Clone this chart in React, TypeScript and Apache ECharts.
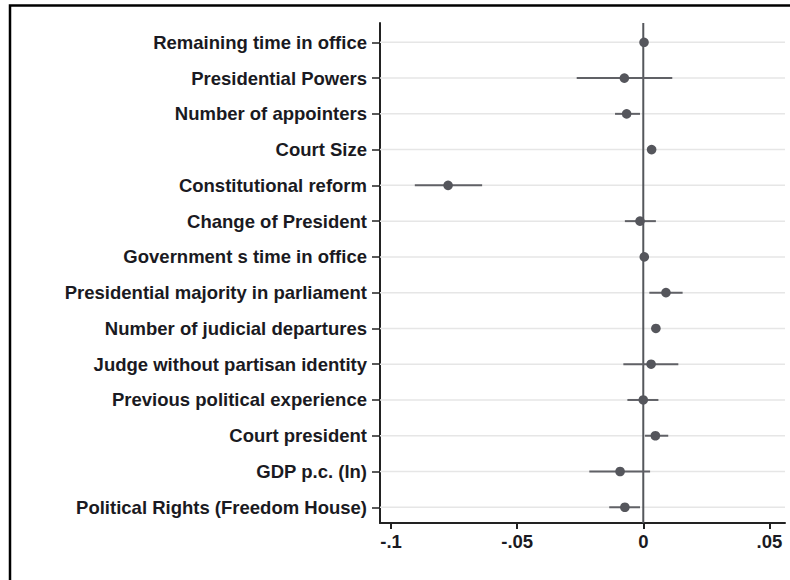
import React, { useEffect, useRef } from "react";
import * as echarts from "echarts";

const categories = [
  "Remaining time in office",
  "Presidential Powers",
  "Number of appointers",
  "Court Size",
  "Constitutional reform",
  "Change of President",
  "Government s time in office",
  "Presidential majority in parliament",
  "Number of judicial departures",
  "Judge without partisan identity",
  "Previous political experience",
  "Court president",
  "GDP p.c. (ln)",
  "Political Rights (Freedom House)",
];

const estimates = [0.0003, -0.0075, -0.0066, 0.0033, -0.0774, -0.0013, 0.0004, 0.009, 0.005, 0.0031, 0.0, 0.0048, -0.0092, -0.0073];
const ciLow = [-0.0006, -0.0264, -0.0112, 0.0022, -0.0906, -0.0073, -0.0005, 0.0024, 0.004, -0.0079, -0.0063, 0.0007, -0.0214, -0.0135];
const ciHigh = [0.0012, 0.0115, -0.0013, 0.0044, -0.0639, 0.005, 0.0013, 0.0156, 0.006, 0.0139, 0.006, 0.0099, 0.0027, -0.0013];

const xTickValues = [-0.1, -0.05, 0, 0.05];
const xTickLabels = ["-.1", "-.05", "0", ".05"];

export default function App() {
  const ref = useRef<HTMLDivElement>(null);
  useEffect(() => {
    if (!ref.current) return;
    const chart = echarts.init(ref.current, null, { renderer: "svg" });
    const rows = categories.map((_, i) => [estimates[i], i + 1, ciLow[i], ciHigh[i]]);
    const yTickValues = categories.map((_, i) => i + 1);
    const font = "'Liberation Sans', Arial, sans-serif";
    chart.setOption({
      animation: false,
      backgroundColor: "#fff",
      grid: { left: 380, right: 5, top: 23, bottom: 57, containLabel: false },
      xAxis: {
        type: "value",
        min: -0.1044,
        max: 0.0562,
        axisLine: { show: true, onZero: false, lineStyle: { color: "#222", width: 2 } },
        axisTick: { show: true, length: 6, lineStyle: { color: "#222", width: 2 }, customValues: xTickValues },
        axisLabel: {
          customValues: xTickValues,
          margin: 9,
          color: "#1a1a22",
          fontFamily: font,
          fontWeight: "bold",
          fontSize: 18.5,
          formatter: (v: number) => {
            let best = 0;
            xTickValues.forEach((t, i) => {
              if (Math.abs(t - v) < Math.abs(xTickValues[best] - v)) best = i;
            });
            return xTickLabels[best];
          },
        },
        splitLine: { show: false },
      },
      yAxis: {
        type: "value",
        inverse: true,
        min: 0.46,
        max: 14.44,
        axisLine: { show: true, onZero: false, lineStyle: { color: "#222", width: 2 } },
        axisTick: { show: true, length: 8, lineStyle: { color: "#222", width: 1.5 }, customValues: yTickValues },
        axisLabel: {
          customValues: yTickValues,
          margin: 13,
          color: "#1a1a22",
          fontFamily: font,
          fontWeight: "bold",
          fontSize: 18.5,
          formatter: (v: number) => categories[Math.round(v) - 1] ?? "",
        },
        splitLine: { show: false },
      },
      graphic: [
        {
          type: "rect",
          shape: { x: 10, y: 5.5, width: 820, height: 620 },
          style: { fill: "none", stroke: "#000", lineWidth: 2.5 },
          z: 100,
        },
      ],
      series: [
        {
          type: "custom",
          z: 1,
          data: rows,
          renderItem: (params: any, api: any) => {
            const cs = params.coordSys;
            const y = api.coord([0, api.value(1)])[1];
            return {
              type: "line",
              shape: { x1: cs.x, y1: y, x2: cs.x + cs.width, y2: y },
              style: { stroke: "#e6e6e6", lineWidth: 1.5 },
            };
          },
        },
        {
          type: "custom",
          z: 2,
          data: [[0]],
          renderItem: (params: any, api: any) => {
            const cs = params.coordSys;
            const x = api.coord([api.value(0), 1])[0];
            return {
              type: "line",
              shape: { x1: x, y1: cs.y, x2: x, y2: cs.y + cs.height },
              style: { stroke: "#55575c", lineWidth: 2 },
            };
          },
        },
        {
          type: "custom",
          z: 3,
          data: rows,
          renderItem: (params: any, api: any) => {
            const idx = api.value(1);
            const p = api.coord([api.value(0), idx]);
            const lo = api.coord([api.value(2), idx]);
            const hi = api.coord([api.value(3), idx]);
            return {
              type: "group",
              children: [
                {
                  type: "line",
                  shape: { x1: lo[0], y1: lo[1], x2: hi[0], y2: hi[1] },
                  style: { stroke: "#606166", lineWidth: 2 },
                },
                {
                  type: "circle",
                  shape: { cx: p[0], cy: p[1], r: 4.8 },
                  style: { fill: "#55565c" },
                },
              ],
            };
          },
        },
      ],
    });
    return () => chart.dispose();
  }, []);
  return (
    <div
      ref={ref}
      style={{ position: "fixed", left: 0, top: 0, width: 790, height: 580 }}
    />
  );
}
